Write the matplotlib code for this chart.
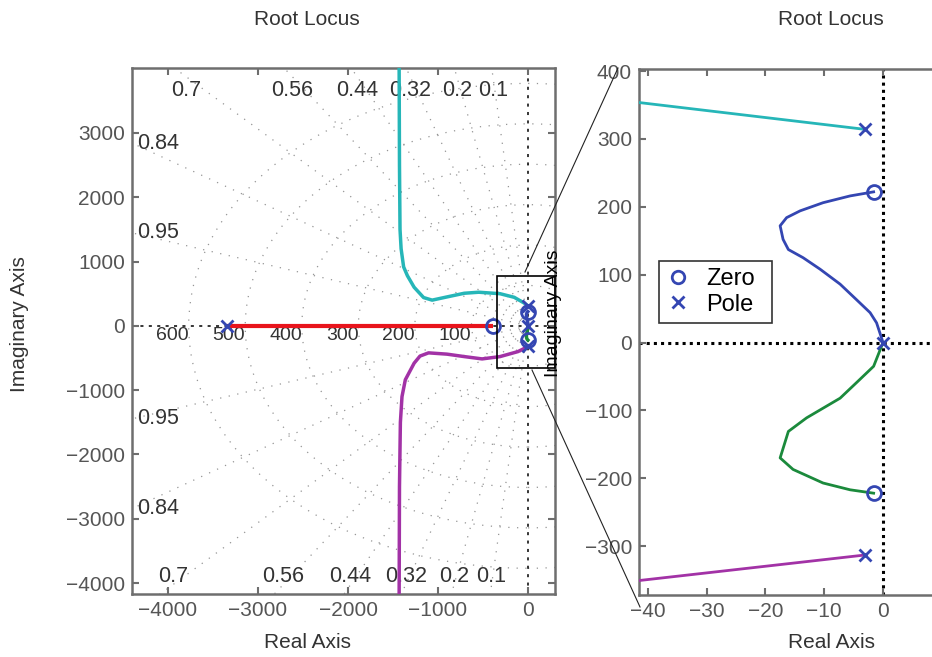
import numpy as np
import matplotlib.pyplot as plt
from matplotlib.lines import Line2D
from matplotlib.patches import Rectangle, Circle

plt.rcParams['font.family'] = ['Liberation Sans', 'DejaVu Sans']

# ---- root-locus branches (real part, imaginary part) ----
red_re = [-3340, -390]
red_im = [0, 0]

cyan_re = [-3, -41.4, -153, -311, -547, -708, -900, -1065, -1160, -1265,
           -1340, -1382, -1410, -1422, -1428, -1432]
cyan_im = [314, 353.5, 444, 500, 523, 507, 450, 400, 440, 600,
           780, 917, 1200, 1500, 2500, 4100]

magenta_re = [-3, -41.4, -111, -311, -510, -708, -900, -1105, -1200, -1265,
              -1363, -1400, -1418, -1428, -1432]
magenta_im = [-313, -350.6, -400, -478, -514, -478, -440, -420, -470, -580,
              -838, -1100, -1500, -2500, -4300]

blue_re = [0, -1.1, -2.2, -4.5, -7.3, -10.7, -13.6, -16.1, -17.0, -17.5,
           -16.4, -14.1, -10.2, -5.6, -1.6]
blue_im = [0, 29, 44, 63, 86, 108, 125, 137, 152, 172,
           184, 194, 206, 216, 222]

green_re = [0, -1.6, -4.5, -7.3, -13.0, -16.1, -17.5, -15.3, -10.2, -5.6, -1.6]
green_im = [0, -35, -59, -82, -111, -131, -170, -187, -207, -217, -222]

# open-loop poles and zeros
pole_re = [-3340, -3, -3, 0]
pole_im = [0, 314, -313, 0]
zero_re = [-390, -1.6, -1.6]
zero_im = [0, 222, -222]

# s-plane grid: damping ratios and natural frequencies (Hz)
damping = [0.1, 0.2, 0.32, 0.44, 0.56, 0.7, 0.84, 0.95]
freq_hz = [100, 200, 300, 400, 500, 600]

BLUE = '#3446b2'
GREEN = '#1b8a3c'
RED = '#e8141c'
CYAN = '#26b6b8'
MAGENTA = '#a232a6'
FRAME = '#6e6e6e'
TICKTXT = '#555555'
TXT = '#333333'
GRID = '#959595'

W, H = 932, 657
fig = plt.figure(figsize=(W / 100, H / 100), dpi=100)


def fig_box(x0, y0, x1, y1):
    return [x0 / W, 1 - y1 / H, (x1 - x0) / W, (y1 - y0) / H]


ax1 = fig.add_axes(fig_box(132, 68, 555, 594))
ax2 = fig.add_axes(fig_box(639, 69, 1023, 595))

for ax in (ax1, ax2):
    for sp in ax.spines.values():
        sp.set_color(FRAME)
        sp.set_linewidth(1.8)
    ax.tick_params(direction='in', length=5, width=1.5, color=FRAME,
                   labelcolor=TICKTXT, labelsize=15, top=True, right=True, pad=5)

# ---------------- left: full root locus ----------------
xl1 = (-4400, 300)
yl1 = (-4170, 4010)
ax1.set_xlim(*xl1)
ax1.set_ylim(*yl1)
ax1.set_xticks([-4000, -3000, -2000, -1000, 0])
ax1.set_yticks([-4000, -3000, -2000, -1000, 0, 1000, 2000, 3000])

grid_kw = dict(color=GRID, lw=0.9, ls=(0, (1, 6)), zorder=1)
for z in damping:
    s = np.sqrt(1 - z ** 2)
    R = 9000
    ax1.plot([0, -z * R], [0, s * R], **grid_kw)
    ax1.plot([0, -z * R], [0, -s * R], **grid_kw)
    x_top = -z / s * yl1[1]
    x_bot = z / s * yl1[0]
    if x_top >= xl1[0]:
        ax1.annotate(f'{z:g}', xy=(x_top * 0.965, yl1[1]), xytext=(0, -16),
                     textcoords='offset points', ha='center', va='center',
                     fontsize=15.5, color=TXT, zorder=2)
        ax1.annotate(f'{z:g}', xy=(x_bot * 0.965, yl1[0]), xytext=(0, 12.5),
                     textcoords='offset points', ha='center', va='center',
                     fontsize=15.5, color=TXT, zorder=2)
    else:
        y_edge = -s / z * xl1[0]
        for yy in (y_edge, -y_edge):
            ax1.annotate(f'{z:g}', xy=(xl1[0], yy), xytext=(4, 0),
                         textcoords='offset points', ha='left', va='center',
                         fontsize=15.5, color=TXT, zorder=2)

for f in freq_hz:
    r = 2 * np.pi * f
    ax1.add_patch(Circle((0, 0), r, fill=False, ec=GRID, lw=0.9,
                         ls=(0, (1, 6)), zorder=1))
    ax1.text(-r, -150, f'{f}', ha='right', va='center', fontsize=14,
             color=TXT, zorder=2)

zero_kw = dict(color='black', lw=1.1, ls=(0, (2, 3.5)), zorder=1.5)
ax1.axvline(0, **zero_kw)
ax1.axhline(0, **zero_kw)

ax1.plot(red_re, red_im, color=RED, lw=3, zorder=3, solid_capstyle='butt')
ax1.plot(cyan_re, cyan_im, color=CYAN, lw=2.5, zorder=3)
ax1.plot(magenta_re, magenta_im, color=MAGENTA, lw=2.5, zorder=3)
ax1.plot(blue_re, blue_im, color=BLUE, lw=2.5, zorder=3)
ax1.plot(green_re, green_im, color=GREEN, lw=2.5, zorder=3)
ax1.plot(zero_re, zero_im, ls='none', marker='o', ms=10, mfc='none',
         mec=BLUE, mew=2, zorder=4)
ax1.plot(pole_re, pole_im, ls='none', marker='x', ms=9, mec=BLUE, mew=2,
         zorder=4)

ax1.add_patch(Rectangle((-345, -662), 645, 1441, fill=False, ec='black',
                        lw=1.2, clip_on=False, zorder=5))

ax1.set_title('Root Locus', fontsize=15, color=TXT, pad=31)
ax1.title.set_x((307 - 132) / 423)
ax1.set_xlabel('Real Axis', fontsize=15, color=TXT)
ax1.xaxis.set_label_coords((307 - 132) / 423, -(643 - 594) / 526)
ax1.xaxis.label.set_va('center')
ax1.set_ylabel('Imaginary Axis', fontsize=15, color=TXT)
ax1.yaxis.set_label_coords((20 - 132) / 423, (594 - 324) / 526)
ax1.yaxis.label.set_va('center')

# ---------------- right: detail near the origin ----------------
ax2.set_xlim(-41.5, 23.8)
ax2.set_ylim(-372, 403)
ax2.set_xticks([-40, -30, -20, -10, 0])
ax2.set_yticks([-300, -200, -100, 0, 100, 200, 300, 400])

dot_kw = dict(color='black', lw=2.2, ls=(0, (1, 1.35)), zorder=1.5)
ax2.axvline(0, **dot_kw)
ax2.axhline(0, **dot_kw)

ax2.plot(cyan_re, cyan_im, color=CYAN, lw=2, zorder=3)
ax2.plot(magenta_re, magenta_im, color=MAGENTA, lw=2, zorder=3)
ax2.plot(blue_re, blue_im, color=BLUE, lw=2, zorder=3)
ax2.plot(green_re, green_im, color=GREEN, lw=2, zorder=3)
ax2.plot(zero_re, zero_im, ls='none', marker='o', ms=10, mfc='none',
         mec=BLUE, mew=2, zorder=4)
ax2.plot(pole_re, pole_im, ls='none', marker='x', ms=9, mec=BLUE, mew=2,
         zorder=4)

ax2.set_title('Root Locus', fontsize=15, color=TXT, pad=32)
ax2.set_xlabel('Real Axis', fontsize=15, color=TXT)
ax2.xaxis.set_label_coords(0.5, -(643 - 595) / 526)
ax2.xaxis.label.set_va('center')
ax2.set_ylabel('Imaginary Axis', fontsize=14, color='black')
ax2.yaxis.set_label_coords((553 - 639) / 384, (595 - 313) / 526)
ax2.yaxis.label.set_va('center')

handles = [
    Line2D([], [], ls='none', marker='o', ms=9, mfc='none', mec=BLUE, mew=2),
    Line2D([], [], ls='none', marker='x', ms=9, mec=BLUE, mew=2),
]
leg = ax2.legend(handles, ['Zero', 'Pole'], loc='upper left',
                 bbox_to_anchor=(659 / W, 1 - 325 / H, 113 / W, 64 / H),
                 bbox_transform=fig.transFigure, mode='expand',
                 fontsize=17, frameon=True, fancybox=False,
                 edgecolor='black', borderpad=0.3, handlelength=1.0,
                 handletextpad=0.7, labelspacing=0.15, borderaxespad=0)
leg.get_frame().set_linewidth(1.2)

# zoom connectors between the box and the detail axes
fig.add_artist(Line2D([525 / W, 618 / W], [1 - 272 / H, 1 - 68 / H],
                      transform=fig.transFigure, color='#222222', lw=0.8))
fig.add_artist(Line2D([532 / W, 640 / W], [1 - 370 / H, 1 - 607 / H],
                      transform=fig.transFigure, color='#222222', lw=0.8))

fig.savefig('out.png', dpi=100, facecolor='white')
